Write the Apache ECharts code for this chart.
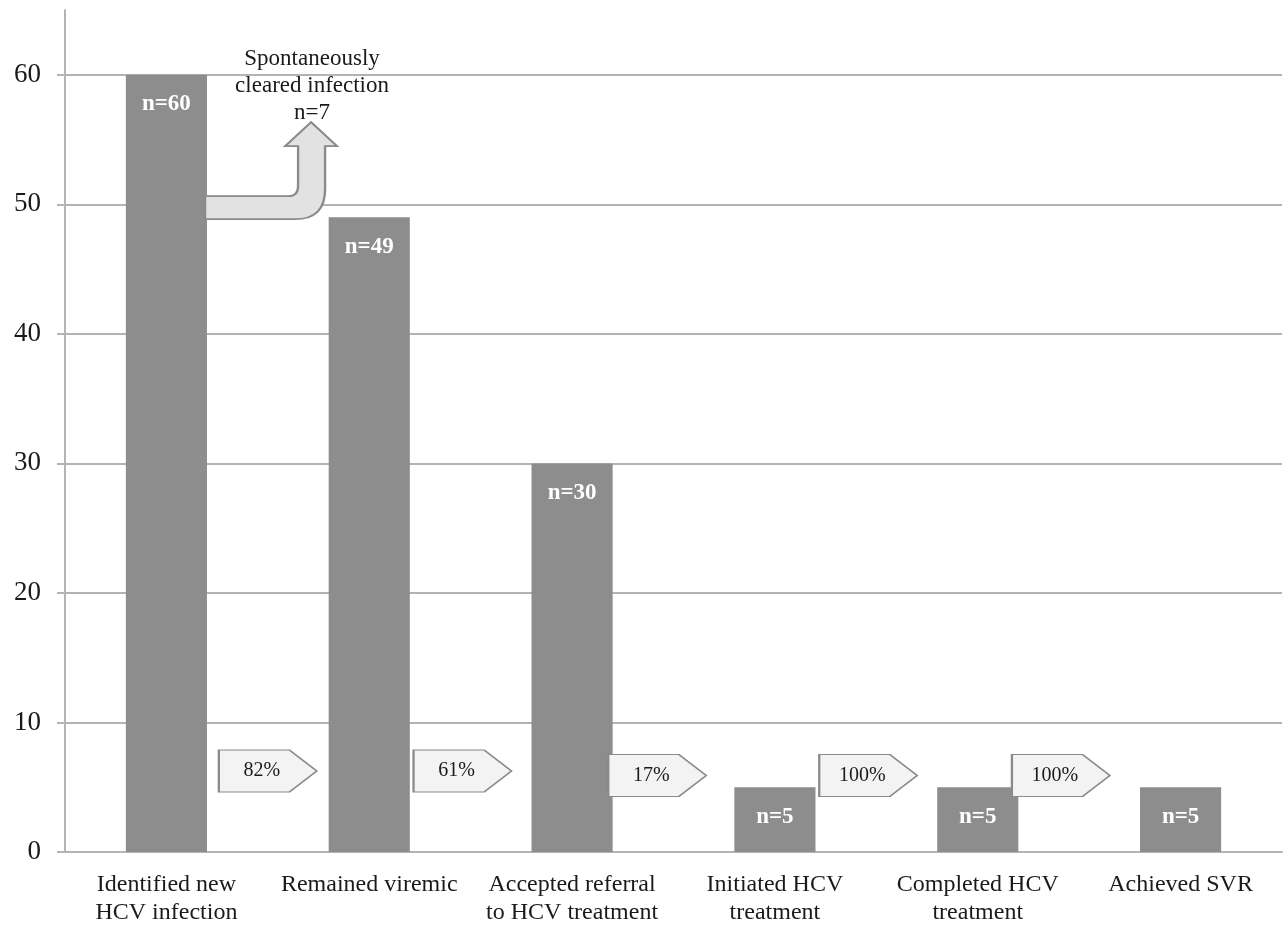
<!DOCTYPE html>
<html lang="en">
<head>
    <meta charset="utf-8"/>
    <title>HCV care cascade</title>
    <script src="https://cdn.jsdelivr.net/npm/echarts@6/dist/echarts.min.js"></script>
    <style>
        html, body { margin: 0; padding: 0; background: #fff; }
        #main { width: 1287px; height: 929px; }
    </style>
</head>
<body>
<div id="main"></div>
<script>
    // data
    var categories = ['Identified new\nHCV infection', 'Remained viremic', 'Accepted referral\nto HCV treatment',
        'Initiated HCV\ntreatment', 'Completed HCV\ntreatment', 'Achieved SVR'];
    var counts = [60, 49, 30, 5, 5, 5];
    var yTicks = [0, 10, 20, 30, 40, 50, 60];

    // step arrows between bars: [position along categories, height, text]
    var stepX = [1.0, 1.96, 2.92, 3.96, 4.91];
    var stepY = [6.25, 6.25, 5.9, 5.9, 5.9];
    var stepText = ['82%', '61%', '17%', '100%', '100%'];

    // bent arrow to the cleared-infection note
    var clearedArrow = [1.016, 52.6];
    var clearedNote = [1.218, 59.15];
    var clearedText = 'Spontaneously\ncleared infection\nn=7';

    var serif = '"Liberation Serif", "DejaVu Serif", serif';
    var chartDom = document.getElementById('main');
    var myChart = echarts.init(chartDom);
    var option;

    var stepData = stepX.map(function (x, i) {
        return {value: [x, stepY[i]], label: {formatter: stepText[i]}};
    });

    option = {
        animation: false,
        grid: {left: 65, right: 5, top: 10, bottom: 77},
        xAxis: [
            {
                type: 'category',
                data: categories,
                axisLine: {lineStyle: {color: '#b4b4b4', width: 2}},
                axisTick: {length: 8, lineStyle: {color: '#b4b4b4', width: 2}},
                axisLabel: {
                    color: '#1a1a1a', fontFamily: serif, fontSize: 24,
                    lineHeight: 28, margin: 19, interval: 0
                }
            },
            {type: 'value', min: 0, max: 6, show: false}
        ],
        yAxis: {
            type: 'value',
            min: 0,
            max: 65,
            interval: 10,
            axisLine: {show: true, lineStyle: {color: '#b4b4b4', width: 2}},
            axisTick: {show: true, length: 8, customValues: yTicks, lineStyle: {color: '#b4b4b4', width: 2}},
            axisLabel: {
                customValues: yTicks, color: '#1a1a1a', fontFamily: serif,
                fontSize: 27, margin: 24
            },
            splitLine: {show: true, lineStyle: {color: '#9a9a9a', width: 1.5}}
        },
        series: [
            {
                type: 'bar',
                data: counts,
                barWidth: '40%',
                itemStyle: {color: '#8d8d8d'},
                label: {
                    show: true,
                    position: 'insideTop',
                    distance: 18,
                    formatter: 'n={c}',
                    color: '#fff',
                    fontFamily: serif,
                    fontWeight: 'bold',
                    fontSize: 23
                },
                z: 2
            },
            {
                type: 'scatter',
                xAxisIndex: 1,
                data: stepData,
                symbol: 'path://M0,0 L72,0 L100,21 L72,42 L0,42 Z',
                symbolSize: [98, 42],
                itemStyle: {color: '#f3f3f3', borderColor: '#8a8a8a', borderWidth: 1.5, opacity: 1},
                label: {
                    show: true,
                    position: 'inside',
                    offset: [-6, 0],
                    color: '#1a1a1a',
                    fontFamily: serif,
                    fontSize: 20
                },
                silent: true,
                z: 3
            },
            {
                type: 'scatter',
                xAxisIndex: 1,
                data: [clearedArrow],
                symbol: 'path://M0,74 L83,74 Q93,74 93,64 L93,24 L80,24 L106,0 L132,24 L120,24 L120,67 Q120,97 90,97 L0,97 Z',
                symbolSize: [132, 97],
                itemStyle: {color: '#e2e2e2', borderColor: '#8a8a8a', borderWidth: 2, opacity: 1},
                silent: true,
                z: 3
            },
            {
                type: 'scatter',
                xAxisIndex: 1,
                data: [clearedNote],
                symbol: 'rect',
                symbolSize: [200, 90],
                itemStyle: {color: 'rgba(255,255,255,0)', opacity: 1},
                label: {
                    show: true,
                    position: 'inside',
                    formatter: clearedText,
                    color: '#1a1a1a',
                    fontFamily: serif,
                    fontSize: 23,
                    lineHeight: 27
                },
                silent: true,
                z: 4
            }
        ]
    };
    option && myChart.setOption(option);
</script>
</body>
</html>
